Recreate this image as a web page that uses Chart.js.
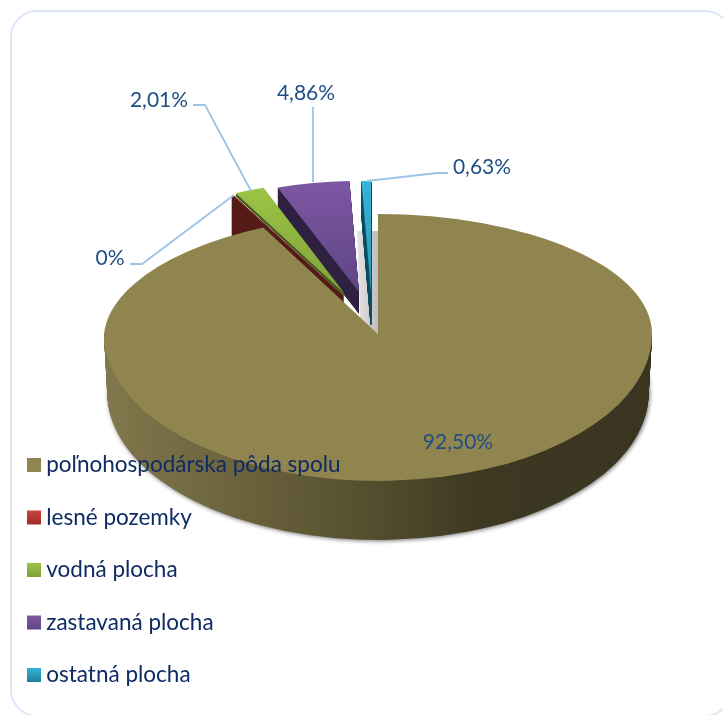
<!DOCTYPE html>
<html><head><meta charset="utf-8">
<script src="https://cdn.jsdelivr.net/npm/chart.js@4/dist/chart.umd.min.js"></script>
<style>
html,body{margin:0;padding:0;background:#fff;width:723px;height:715px;overflow:hidden}
#wrap{position:relative;width:723px;height:715px;overflow:hidden}
#card{position:absolute;left:10px;top:10px;width:722px;height:707px;border:2px solid #dce8f8;border-radius:27px;box-sizing:border-box}
canvas{position:absolute;left:0;top:0}
</style></head><body>
<div id="wrap"><div id="card"></div><canvas id="c" width="723" height="715"></canvas></div>
<script>
const categories=['poľnohospodárska pôda spolu','lesné pozemky','vodná plocha','zastavaná plocha','ostatná plocha'];
const shareValues=[92.5,0.1,2.01,4.86,0.63];
const shareLabels=['92,50%','0%','2,01%','4,86%','0,63%'];
const legendTop=['#90854f','#cb423d','#9cc547','#7f59a5','#35b3d8'];
const legendBottom=['#90854f','#9c2d29','#7f9f3a','#5f4684','#1f7f9c'];
const faceTop=['#90854f','#8a2a26','#9dc646','#7e57a3','#35b4d8'];
const faceBottom=['#90854f','#8a2a26','#7fa03a','#5e4585','#2b96b6'];
const wallColor=[null,'#551c17','#44581f','#2e2141','#114f62'];
const wallEdge=[0,1.2,0,0,0.8];
const wallStops=[[104,'#83784d'],[130,'#7c7349'],[360,'#57502f'],[480,'#3d3822'],[652,'#3a3520']];
const apexX=[378,343,345,359,371];
const apexY=[334,295,294,292,293];
const radiusX=[274,241,241,241,241];
const radiusY=[120,112,113,111,112];
const lowerRadiusY=147;
const upperLeftLean=0.104;
const wallDepth=[59,50,3,22,32];
const drawOrder=[4,3,1,2,0];
const labelX=[458,110,159,306,482];
const labelY=[442,258,100,93,167];
const leaderLines=[null,[[130,264],[142,264],[234,195]],[[193,105],[205,105],[251,191]],[[313,107],[313,182]],[[448,173],[437,173],[367,181]]];
const legendRowY=[465,517.5,570,622.5,675];
const FONT='Lato, Carlito, "Open Sans", sans-serif';

function mapGradient(ctx,el,i,x0,y0,x1,y1,stops){
  const R=el.outerRadius;
  const mx=X=>el.x+(X-apexX[i])*R/radiusX[i];
  const my=Y=>el.y+(Y-apexY[i])*R/radiusY[i];
  const g=ctx.createLinearGradient(mx(x0),my(y0),mx(x1),my(y1));
  stops.forEach(s=>g.addColorStop(s[0],s[1]));
  return g;
}
function place(ctx,el,i,ry,dy,sx){
  const R=el.outerRadius;
  ctx.translate(apexX[i],apexY[i]+(dy||0));
  ctx.scale(radiusX[i]*(sx||1)/R,ry/R);
  ctx.translate(-el.x,-el.y);
}
function paint(ctx,el,fill,edge){
  const o=el.options;
  el.options=Object.assign({},o,{backgroundColor:fill,borderWidth:edge||0,borderColor:fill,borderJoinStyle:'round'});
  el.draw(ctx);
  el.options=o;
}
const piePlugin={
  id:'pie3d',
  afterInit(chart){
    const lg=chart.legend;
    lg._layers=()=>[{z:5,draw(){
      const ctx=chart.ctx,h=lg.legendHitBoxes[0];
      const dx=33-h.left,dy=465-(h.top+h.height/2);
      lg.legendItems.forEach((it,i)=>{
        const g=ctx.createLinearGradient(0,legendRowY[i]-7-dy,0,legendRowY[i]+7-dy);
        g.addColorStop(0,legendTop[i]);g.addColorStop(1,legendBottom[i]);
        it.fillStyle=g;it.strokeStyle=g;
      });
      ctx.save();
      ctx.translate(dx,dy);
      lg.draw();
      ctx.restore();
    }}];
  },
  beforeDatasetDraw(chart,args){
    const ctx=chart.ctx,els=chart.getDatasetMeta(args.index).data;
    // soft shadow beside the large sector
    ctx.save();
    const sg=ctx.createLinearGradient(357,0,378,0);
    sg.addColorStop(0,'#e4e4e4');sg.addColorStop(1,'#bdbdbd');
    ctx.fillStyle=sg;ctx.beginPath();
    ctx.moveTo(357,231);ctx.lineTo(378,231);ctx.lineTo(378,334);ctx.lineTo(360,318);ctx.closePath();ctx.fill();
    ctx.restore();
    drawOrder.forEach(i=>{
      const el=els[i];
      if(i===0){
        const wall=mapGradient(ctx,el,0,104,0,652,0,wallStops.map(s=>[(s[0]-104)/548,s[1]]));
        ctx.save();
        ctx.beginPath();ctx.rect(0,apexY[0],723,400);ctx.clip();
        for(let d=wallDepth[0];d>=1;d--){
          ctx.save();
          if(d===wallDepth[0]){ctx.shadowColor='rgba(0,0,0,.55)';ctx.shadowBlur=4;ctx.shadowOffsetY=1;ctx.shadowOffsetX=1;}
          place(ctx,el,0,lowerRadiusY,d,1-0.012*d/wallDepth[0]);
          paint(ctx,el,wall);
          ctx.restore();
        }
        ctx.restore();
        // far right quarter
        ctx.save();ctx.beginPath();ctx.rect(apexX[0],0,723,apexY[0]);ctx.clip();
        place(ctx,el,0,radiusY[0]);paint(ctx,el,faceTop[0]);ctx.restore();
        // far left quarter, leaning with the perspective
        ctx.save();ctx.beginPath();ctx.rect(0,0,apexX[0],apexY[0]+0.5);ctx.clip();
        ctx.transform(1,0,-upperLeftLean,1,upperLeftLean*apexY[0],0);
        place(ctx,el,0,radiusY[0]);paint(ctx,el,faceTop[0]);ctx.restore();
        // near half
        ctx.save();ctx.beginPath();ctx.rect(0,apexY[0],723,400);ctx.clip();
        place(ctx,el,0,lowerRadiusY);paint(ctx,el,faceTop[0]);ctx.restore();
      }else{
        for(let d=wallDepth[i];d>=1;d-=0.5){
          ctx.save();place(ctx,el,i,radiusY[i],d);paint(ctx,el,wallColor[i],wallEdge[i]);ctx.restore();
        }
        const top=apexY[i]-radiusY[i];
        const face=mapGradient(ctx,el,i,0,top,0,apexY[i],[[0,faceTop[i]],[1,faceBottom[i]]]);
        ctx.save();place(ctx,el,i,radiusY[i]);paint(ctx,el,face);ctx.restore();
      }
    });
    return false;
  },
  afterDatasetsDraw(chart){
    const ctx=chart.ctx;
    ctx.save();
    ctx.strokeStyle='#9dc3e8';ctx.lineWidth=1.8;
    leaderLines.forEach(l=>{
      if(!l)return;
      ctx.beginPath();l.forEach((p,k)=>k?ctx.lineTo(p[0],p[1]):ctx.moveTo(p[0],p[1]));ctx.stroke();
    });
    ctx.fillStyle='#1f4e85';ctx.font='21px '+FONT;ctx.textAlign='center';ctx.textBaseline='middle';
    shareLabels.forEach((t,i)=>ctx.fillText(t,labelX[i],labelY[i]));
    ctx.restore();
  }
};
const cv=document.getElementById('c');
new Chart(cv,{
  type:'pie',
  data:{labels:categories,datasets:[{data:shareValues,backgroundColor:faceTop,borderWidth:0}]},
  options:{
    responsive:false,animation:false,
    plugins:{
      tooltip:{enabled:false},
      legend:{
        position:'left',align:'start',
        labels:{
          boxWidth:2,boxHeight:2,padding:30,color:'#0f2b63',
          font:{family:FONT,size:22.5,lineHeight:1},
          generateLabels(chart){
            return categories.map((t,i)=>{
              return {text:t,fillStyle:legendTop[i],strokeStyle:legendTop[i],lineWidth:12,hidden:false,index:i,fontColor:'#0f2b63'};
            });
          }
        }
      }
    }
  },
  plugins:[piePlugin]
});
</script></body></html>
